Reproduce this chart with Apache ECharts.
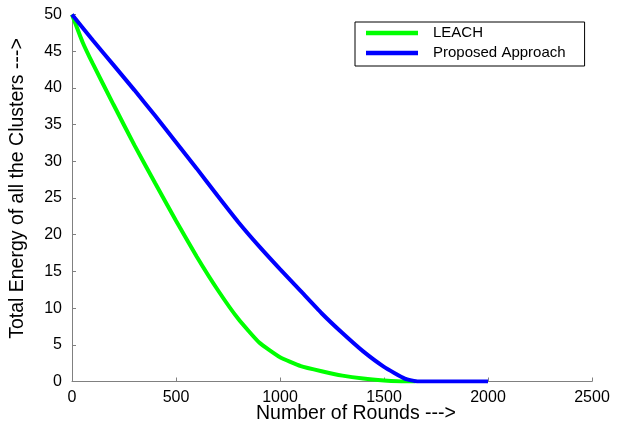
<!DOCTYPE html>
<html>
<head>
<meta charset="utf-8">
<script src="https://cdn.jsdelivr.net/npm/echarts@6/dist/echarts.min.js"></script>
<style>
html,body{margin:0;padding:0;background:#fff;}
#c{width:620px;height:441px;}
</style>
</head>
<body>
<div id="c"></div>
<script>
var leachRounds = [0, 50, 100, 200, 300, 400, 500, 600, 700, 800, 900, 1000, 1100, 1200, 1300, 1400, 1500, 1600, 1650];
var leachEnergy = [50, 46.3, 43.3, 37.7, 32.2, 27.0, 21.9, 17.0, 12.5, 8.5, 5.3, 3.3, 2.1, 1.4, 0.8, 0.4, 0.15, 0, 0];
var propRounds = [0, 100, 200, 300, 400, 500, 600, 700, 800, 900, 1000, 1100, 1200, 1300, 1400, 1500, 1600, 1665, 2000];
var propEnergy = [50, 46.5, 43.1, 39.7, 36.2, 32.6, 29.0, 25.3, 21.7, 18.4, 15.3, 12.3, 9.3, 6.6, 4.1, 2.0, 0.4, 0, 0];
var xTicks = [0, 500, 1000, 1500, 2000, 2500];
var yTicks = [0, 5, 10, 15, 20, 25, 30, 35, 40, 45, 50];
var seriesNames = ['LEACH', 'Proposed Approach'];

function pairs(xs, ys) { return xs.map(function (x, i) { return [x, ys[i]]; }); }

var chart = echarts.init(document.getElementById('c'), null, {renderer: 'canvas'});
var axisCol = '#808080';
var font = 'Liberation Sans, Arial, sans-serif';
chart.setOption({
  animation: false,
  backgroundColor: '#fff',
  grid: {left: 72, right: 28, top: 14.5, bottom: 59.5, containLabel: false},
  xAxis: {
    type: 'value', min: xTicks[0], max: xTicks[xTicks.length - 1], interval: 500,
    name: 'Number of Rounds --->', nameLocation: 'middle', nameGap: 22, nameMoveOverlap: false,
    nameTextStyle: {color: '#000', fontSize: 19.5, fontFamily: font, padding: [0, 0, 0, 48]},
    axisLine: {show: true, lineStyle: {color: axisCol, width: 1}},
    axisTick: {show: true, inside: true, length: 4, lineStyle: {color: axisCol}},
    axisLabel: {color: '#000', fontSize: 16, fontFamily: font, margin: 8,
      formatter: function (v) { return String(v); }},
    splitLine: {show: false}
  },
  yAxis: {
    type: 'value', min: yTicks[0], max: yTicks[yTicks.length - 1], interval: 5,
    name: 'Total Energy of all the Clusters --->', nameLocation: 'middle', nameGap: 44,
    nameTextStyle: {color: '#000', fontSize: 19.5, fontFamily: font, padding: [0, 0, 0, 19]},
    axisLine: {show: true, lineStyle: {color: axisCol, width: 1}},
    axisTick: {show: true, inside: true, length: 4, lineStyle: {color: axisCol}},
    axisLabel: {color: '#000', fontSize: 16, fontFamily: font, margin: 10},
    splitLine: {show: false}
  },
  legend: {
    orient: 'vertical', left: 355, top: 22,
    data: seriesNames.map(function (n) { return {name: n, icon: 'rect'}; }),
    itemWidth: 52, itemHeight: 4.5, itemGap: 5,
    padding: [3.5, 19, 5.5, 11],
    borderColor: '#000', borderWidth: 1, backgroundColor: '#fff',
    textStyle: {color: '#000', fontSize: 15, fontFamily: font, padding: [0, 0, 0, 10]},
    selectedMode: false
  },
  series: [
    {name: seriesNames[0], type: 'line', data: pairs(leachRounds, leachEnergy), showSymbol: false, symbol: 'none',
     smooth: 0.15,
     lineStyle: {color: '#00ff00', width: 4}, itemStyle: {color: '#00ff00'}},
    {name: seriesNames[1], type: 'line', data: pairs(propRounds, propEnergy), showSymbol: false, symbol: 'none',
     smooth: 0.15,
     lineStyle: {color: '#0000ff', width: 4}, itemStyle: {color: '#0000ff'}}
  ]
});
</script>
</body>
</html>
